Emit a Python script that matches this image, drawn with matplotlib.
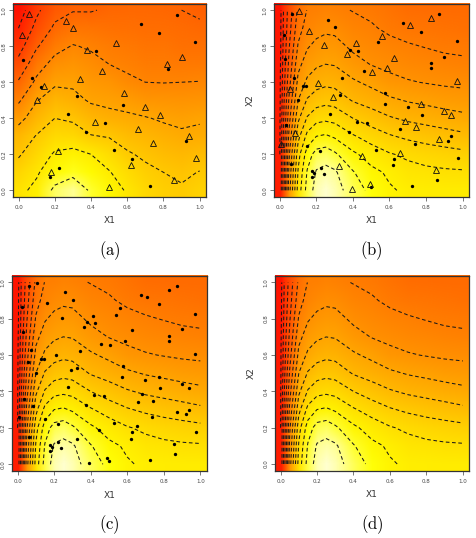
import numpy as np
import matplotlib
matplotlib.use("Agg")
import matplotlib.pyplot as plt
from matplotlib.colors import LinearSegmentedColormap, Normalize
from matplotlib.image import NonUniformImage

plt.rcParams['mathtext.fontset'] = 'cm'
plt.rcParams['lines.dashed_pattern'] = [3.5, 2.5]

# ---- surface of panel (a): columns at x = 0, 0.1, ..., 1 ; values at y = 0, 0.1, ..., 1
a_x = [0.0, 0.1, 0.2, 0.3, 0.4, 0.5, 0.6, 0.7, 0.8, 0.9, 1.0]
a_y = [0.0, 0.1, 0.2, 0.3, 0.4, 0.5, 0.6, 0.7, 0.8, 0.9, 1.0]
a_cols = [
    [2.2, 2.6, 3.1, 3.5, 4.3, 5.15, 5.9, 6.7, 7.4, 8.0, 8.5],
    [1.8, 2.1, 2.5, 2.95, 3.5, 4.05, 4.8, 5.4, 6.1, 6.7, 7.2],
    [0.8, 1.5, 1.9, 2.45, 3.0, 3.55, 4.15, 4.7, 5.3, 5.85, 6.3],
    [0.5, 1.2, 1.75, 2.5, 3.15, 3.75, 4.15, 4.55, 4.95, 5.5, 6.05],
    [1.1, 1.5, 2.0, 2.95, 3.55, 4.1, 4.4, 4.75, 5.1, 5.55, 6.05],
    [1.55, 1.95, 2.4, 3.05, 3.75, 4.2, 4.55, 5.0, 5.3, 5.6, 5.9],
    [2.1, 2.4, 2.9, 3.35, 3.85, 4.3, 4.85, 5.15, 5.4, 5.65, 5.85],
    [2.5, 2.8, 3.15, 3.55, 3.95, 4.5, 5.0, 5.3, 5.5, 5.7, 5.85],
    [2.8, 3.0, 3.35, 3.7, 4.1, 4.55, 5.02, 5.3, 5.5, 5.7, 5.9],
    [2.9, 3.15, 3.45, 3.85, 4.2, 4.6, 5.0, 5.35, 5.6, 5.8, 6.0],
    [2.7, 2.97, 3.35, 3.8, 4.1, 4.55, 4.98, 5.35, 5.6, 5.85, 6.15],
]

# ---- surface of panels (b), (c), (d)
s_x = [0.0, 0.02, 0.05, 0.1, 0.15, 0.2, 0.25, 0.3, 0.4, 0.5, 0.6, 0.7, 0.8, 0.9, 1.0]
s_y = [0.0, 0.1, 0.2, 0.3, 0.4, 0.5, 0.6, 0.7, 0.8, 0.9, 1.0]
s_cols = [
    [14.0, 14.0, 14.0, 14.1, 14.1, 14.2, 14.2, 14.3, 14.4, 14.4, 14.5],
    [11.5, 11.6, 11.7, 11.9, 12.1, 12.3, 12.5, 12.6, 12.8, 12.9, 13.0],
    [7.5, 7.8, 8.2, 8.8, 9.4, 9.9, 10.4, 10.8, 11.1, 11.4, 11.6],
    [3.6, 3.9, 4.4, 5.3, 6.2, 7.0, 7.7, 8.3, 8.9, 9.4, 9.8],
    [1.6, 1.9, 2.5, 3.7, 4.9, 5.9, 6.8, 7.5, 8.1, 8.6, 8.95],
    [0.6, 0.9, 1.6, 3.0, 4.35, 5.45, 6.4, 7.15, 7.75, 8.35, 8.9],
    [0.3, 0.71, 1.43, 2.86, 4.22, 5.3, 6.23, 7.0, 7.59, 8.2, 8.7],
    [0.55, 0.85, 1.83, 3.13, 4.33, 5.4, 6.31, 7.06, 7.65, 8.25, 8.8],
    [1.5, 1.92, 2.8, 3.89, 5.0, 6.08, 6.85, 7.62, 8.21, 8.62, 9.04],
    [2.25, 2.75, 3.45, 4.44, 5.5, 6.42, 7.25, 8.04, 8.46, 8.87, 9.25],
    [2.9, 3.15, 3.92, 4.9, 5.9, 6.82, 7.7, 8.26, 8.67, 9.22, 9.55],
    [3.15, 3.62, 4.2, 5.2, 6.18, 7.08, 7.92, 8.43, 8.9, 9.4, 9.85],
    [3.25, 3.75, 4.45, 5.4, 6.36, 7.25, 8.05, 8.55, 9.05, 9.5, 9.9],
    [3.3, 3.84, 4.6, 5.58, 6.55, 7.42, 8.16, 8.68, 9.2, 9.6, 9.95],
    [3.3, 3.88, 4.73, 5.78, 6.73, 7.54, 8.22, 8.78, 9.25, 9.65, 9.98],
]

# ---- design points
a_circ_x = [0.875, 0.675, 0.775, 0.975, 0.425, 0.025, 0.825, 0.075, 0.125, 0.325,
            0.575, 0.275, 0.475, 0.375, 0.925, 0.525, 0.625, 0.225, 0.175, 0.725]
a_circ_y = [0.975, 0.925, 0.875, 0.825, 0.775, 0.725, 0.675, 0.625, 0.575, 0.525,
            0.475, 0.425, 0.375, 0.325, 0.275, 0.225, 0.175, 0.125, 0.075, 0.025]
a_tri_x = [0.06, 0.26, 0.30, 0.02, 0.54, 0.38, 0.90, 0.82, 0.46, 0.34, 0.14, 0.58, 0.10,
           0.70, 0.78, 0.42, 0.66, 0.94, 0.74, 0.22, 0.98, 0.62, 0.18, 0.86, 0.50]
a_tri_y = [0.98, 0.94, 0.90, 0.86, 0.82, 0.78, 0.74, 0.70, 0.66, 0.62, 0.58, 0.54, 0.50,
           0.46, 0.42, 0.38, 0.34, 0.30, 0.26, 0.22, 0.18, 0.14, 0.10, 0.06, 0.02]

b_circ_x = [0.064, 0.262, 0.301, 0.673, 0.872, 0.772, 0.972, 0.539, 0.382, 0.426,
            0.024, 0.029, 0.459, 0.826, 0.826, 0.897, 0.075, 0.341, 0.127, 0.143,
            0.578, 0.327, 0.574, 0.101, 0.699, 0.780, 0.277, 0.420, 0.475, 0.035,
            0.659, 0.376, 0.936, 0.921, 0.738, 0.150, 0.222, 0.525, 0.624, 0.620,
            0.976, 0.060, 0.224, 0.178, 0.187, 0.240, 0.176, 0.859, 0.725, 0.499]
b_circ_y = [0.981, 0.944, 0.904, 0.928, 0.978, 0.878, 0.828, 0.822, 0.781, 0.776,
            0.861, 0.728, 0.663, 0.704, 0.678, 0.741, 0.626, 0.622, 0.578, 0.580,
            0.541, 0.528, 0.478, 0.504, 0.461, 0.420, 0.426, 0.381, 0.374, 0.361,
            0.341, 0.324, 0.300, 0.276, 0.259, 0.246, 0.220, 0.224, 0.176, 0.141,
            0.180, 0.148, 0.124, 0.107, 0.096, 0.089, 0.074, 0.059, 0.024, 0.019]
b_tri_x = [0.106, 0.161, 0.244, 0.560, 0.710, 0.829, 0.415, 0.365, 0.624, 0.505,
           0.587, 0.055, 0.209, 0.290, 0.772, 0.972, 0.899, 0.936, 0.683, 0.743,
           0.084, 0.009, 0.448, 0.655, 0.872, 0.323, 0.857, 0.393, 0.492]
b_tri_y = [0.995, 0.883, 0.804, 0.857, 0.917, 0.957, 0.815, 0.756, 0.735, 0.656,
           0.678, 0.561, 0.598, 0.519, 0.480, 0.606, 0.439, 0.420, 0.385, 0.350,
           0.319, 0.259, 0.191, 0.209, 0.285, 0.137, 0.111, 0.009, 0.035]

ticks = [0.0, 0.2, 0.4, 0.6, 0.8, 1.0]
tick_labels = ["0.0", "0.2", "0.4", "0.6", "0.8", "1.0"]

heat = LinearSegmentedColormap.from_list(
    "heat", [(0.0, "#FFFFE8"), (0.15, "#FFFF00"), (1.0, "#FF0000")])

XL = (-0.032, 1.035)
YL = (-0.037, 1.034)


def panel(rect, xs, ys, cols, vmax, levels, caption, circ=None, tri=None, ylab=False):
    ax = fig.add_axes(rect)
    z = np.array(cols).T
    im = NonUniformImage(ax, interpolation="bilinear", cmap=heat,
                         norm=Normalize(0, vmax), extent=(XL[0], XL[1], YL[0], YL[1]))
    im.set_data(np.array(xs), np.array(ys), z)
    ax.add_image(im)
    ax.contour(xs, ys, z, levels=levels, colors="#1a1a1a", linewidths=0.75,
               linestyles="dashed", zorder=2)
    if circ is not None:
        ax.plot(circ[0], circ[1], "o", color="black", ms=2.4, mew=0, zorder=3)
    if tri is not None:
        ax.plot(tri[0], tri[1], "^", mfc="none", mec="#111111", ms=3.7, mew=0.6, zorder=3)
    ax.set_xlim(*XL)
    ax.set_ylim(*YL)
    ax.set_xticks(ticks)
    ax.set_xticklabels(tick_labels)
    ax.set_yticks(ticks)
    ax.set_yticklabels(tick_labels, rotation=90, va="center")
    ax.tick_params(axis="x", labelsize=4, colors="#444444", length=3, width=0.5, pad=3)
    ax.tick_params(axis="y", labelsize=4, colors="#444444", length=3, width=0.5, pad=1.5)
    for s in ax.spines.values():
        s.set_color("#333333")
        s.set_linewidth(0.9)
    ax.set_xlabel("X1", fontsize=6.5, color="#333333", va="center")
    ax.xaxis.set_label_coords(0.5, -0.124)
    if ylab:
        ax.set_ylabel("X2", fontsize=6.5, color="#333333", va="center")
        ax.yaxis.set_label_coords(-0.123, 0.5)
    cx = rect[0] + rect[2] / 2
    fig.text(cx, rect[1] - 0.1, caption, fontsize=12, ha="center", va="center")
    return ax


fig = plt.figure(figsize=(4.76, 5.38), dpi=100)

lv_a = [1, 2, 3, 4, 5, 6, 7, 8]
lv_s = list(range(1, 16))

panel([0.0267, 0.6338, 0.4061, 0.3587], a_x, a_y, a_cols, 9.0, lv_a, r"$\mathrm{(a)}$",
      circ=(a_circ_x, a_circ_y), tri=(a_tri_x, a_tri_y))
panel([0.5756, 0.6338, 0.4097, 0.3587], s_x, s_y, s_cols, 15.5, lv_s, r"$\mathrm{(b)}$",
      circ=(b_circ_x, b_circ_y), tri=(b_tri_x, b_tri_y), ylab=True)
panel([0.0246, 0.1245, 0.4097, 0.3625], s_x, s_y, s_cols, 15.5, lv_s, r"$\mathrm{(c)}$",
      circ=(b_circ_x + b_tri_x, b_circ_y + b_tri_y))
panel([0.5771, 0.1251, 0.4087, 0.3613], s_x, s_y, s_cols, 15.5, lv_s, r"$\mathrm{(d)}$",
      ylab=True)

fig.savefig("out.png", dpi=100)
